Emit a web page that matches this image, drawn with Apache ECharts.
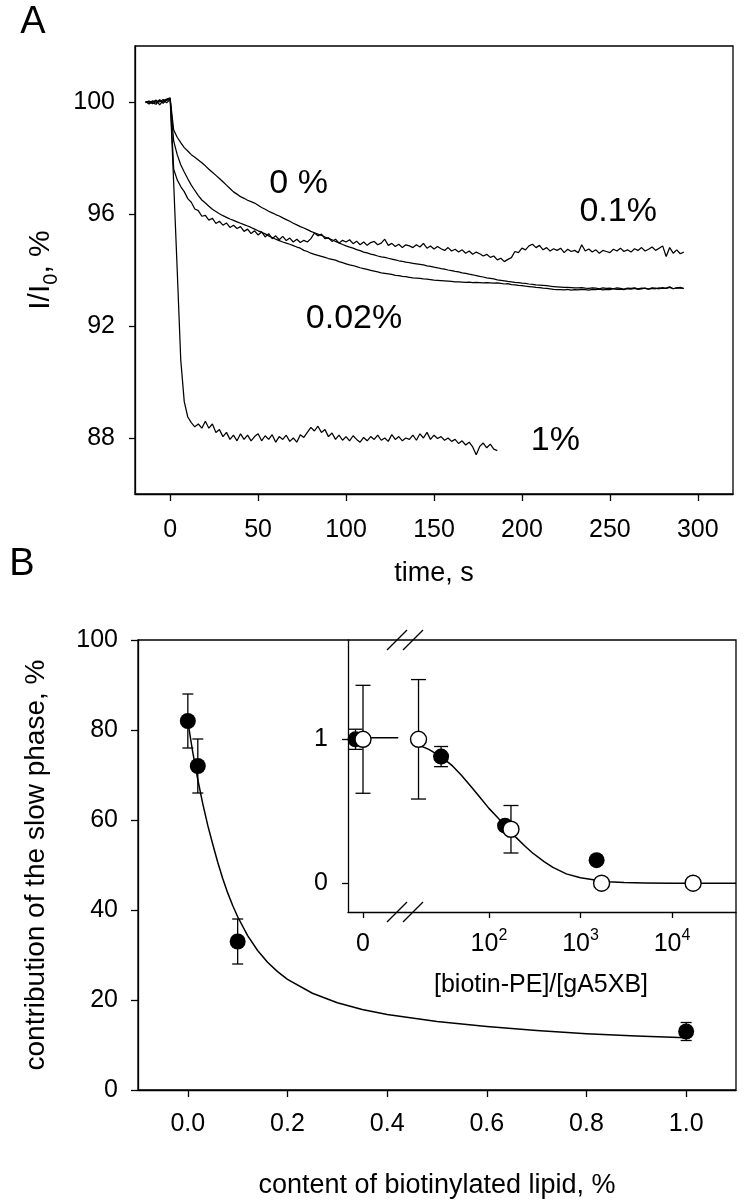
<!DOCTYPE html>
<html><head><meta charset="utf-8">
<script src="https://cdn.jsdelivr.net/npm/echarts@6/dist/echarts.min.js"></script>
<style>html,body{margin:0;padding:0;background:#fff}#c{width:746px;height:1200px}</style>
</head><body><div id="c"></div>
<script>
// ---------- Panel A: fluorescence traces ----------
const timeS = [-14,-12,-10,-8,-6,-4,-2,0,2,4,6,8,10,12,14,16,18,20,22,24,26,28,30,32,34,36,38,40,42,44,46,48,50,52,54,56,58,60,62,64,66,68,70,72,74,76,78,80,82,84,86,88,90,92,94,96,98,100,102,104,106,108,110,112,114,116,118,120,122,124,126,128,130,132,134,136,138,140,142,144,146,148,150,152,154,156,158,160,162,164,166,168,170,172,174,176,178,180,182,184,186,188,190,192,194,196,198,200,202,204,206,208,210,212,214,216,218,220,222,224,226,228,230,232,234,236,238,240,242,244,246,248,250,252,254,256,258,260,262,264,266,268,270,272,274,276,278,280,282,284,286,288,290,292];

const trace0pct = [100.0,99.96,100.04,99.98,100.06,99.95,100.08,100.12,
99.0,98.74,98.55,98.37,98.25,98.12,98.03,97.93,97.83,97.72,
97.6,97.49,97.38,97.27,97.15,97.03,96.91,96.79,96.71,96.62,
96.56,96.49,96.44,96.39,96.31,96.23,96.17,96.1,96.04,95.98,
95.93,95.86,95.8,95.74,95.67,95.61,95.55,95.5,95.44,95.38,
95.33,95.28,95.24,95.18,95.13,95.08,95.02,94.97,94.91,94.86,
94.82,94.78,94.73,94.69,94.64,94.61,94.57,94.54,94.5,94.47,
94.45,94.42,94.39,94.36,94.33,94.31,94.28,94.26,94.24,94.22,
94.2,94.18,94.15,94.13,94.1,94.08,94.05,94.03,94.0,93.98,
93.95,93.93,93.9,93.88,93.85,93.83,93.8,93.77,93.75,93.72,
93.7,93.68,93.65,93.63,93.61,93.59,93.58,93.56,93.55,93.53,
93.52,93.5,93.49,93.47,93.46,93.45,93.44,93.42,93.41,93.4,
93.39,93.38,93.38,93.37,93.36,93.36,93.37,93.35,93.34,93.36,
93.35,93.33,93.36,93.34,93.35,93.33,93.36,93.34,93.32,93.35,
93.34,93.36,93.33,93.35,93.34,93.32,93.36,93.35,93.33,93.37,
93.34,93.38,93.33,93.36,93.35,93.34];

const trace002pct = [99.98,100.02,99.94,100.05,100.0,100.09,99.97,100.1,
98.6,98.12,97.76,97.5,97.26,97.03,96.84,96.66,96.5,96.39,
96.28,96.17,96.09,96.01,95.94,95.88,95.82,95.77,95.72,95.67,
95.62,95.57,95.52,95.46,95.4,95.35,95.29,95.22,95.16,95.1,
95.05,95.0,94.96,94.92,94.87,94.82,94.78,94.7,94.66,94.6,
94.56,94.52,94.49,94.45,94.41,94.38,94.35,94.3,94.26,94.22,
94.18,94.16,94.12,94.08,94.05,94.02,93.99,93.96,93.93,93.9,
93.88,93.86,93.84,93.81,93.8,93.77,93.76,93.74,93.72,93.71,
93.7,93.68,93.67,93.66,93.64,93.63,93.62,93.61,93.6,93.59,
93.58,93.58,93.57,93.56,93.57,93.55,93.56,93.55,93.54,93.55,
93.54,93.53,93.54,93.52,93.5,93.51,93.48,93.47,93.45,93.44,
93.42,93.41,93.4,93.38,93.37,93.35,93.34,93.33,93.31,93.3,
93.3,93.29,93.31,93.28,93.3,93.29,93.31,93.3,93.28,93.31,
93.3,93.32,93.29,93.31,93.3,93.33,93.31,93.32,93.3,93.33,
93.32,93.34,93.31,93.33,93.35,93.32,93.34,93.33,93.36,93.34,
93.35,93.4,93.33,93.36,93.38,93.34];

const trace01pct = [100.02,99.93,100.0,100.07,99.9,100.05,100.1,100.15,
97.6,97.22,96.98,96.8,96.55,96.42,96.18,96.12,95.92,95.95,
95.78,95.85,95.66,95.74,95.6,95.68,95.52,95.6,95.48,95.55,
95.38,95.46,95.3,95.4,95.25,95.36,95.18,95.3,95.12,95.22,
95.08,95.2,95.05,95.14,95.0,95.1,94.98,95.06,95.0,95.12,
95.32,95.22,95.28,95.12,95.15,95.02,95.1,94.96,95.06,95.0,
95.08,94.94,95.03,94.9,95.0,94.88,94.98,95.02,94.9,94.96,
95.1,94.88,94.95,94.84,94.92,94.8,94.9,94.86,94.8,94.9,
94.82,94.95,94.78,94.86,94.75,94.84,94.76,94.7,94.8,94.68,
94.74,94.64,94.72,94.6,94.68,94.56,94.64,94.58,94.5,94.56,
94.45,94.5,94.36,94.42,94.3,94.38,94.44,94.66,94.62,94.78,
94.72,94.86,94.92,94.8,94.88,94.72,94.8,94.68,94.76,94.7,
94.78,94.62,94.74,94.66,94.7,94.62,94.9,94.68,94.75,94.64,
94.72,94.6,94.7,94.66,94.62,94.74,94.68,94.78,94.66,94.72,
94.64,94.76,94.7,94.8,94.68,94.74,94.82,94.7,94.78,94.86,
94.48,94.8,94.6,94.72,94.58,94.64];

const trace1pct = [100.0,100.03,99.97,99.92,100.08,100.0,100.06,100.1,
97.1,94.0,90.8,89.3,88.75,88.55,88.4,88.5,88.35,88.6,
88.35,88.5,88.2,88.3,88.05,88.2,87.95,88.1,87.9,88.15,
87.95,88.1,87.9,88.05,88.15,87.9,88.08,87.95,88.12,87.85,
88.05,87.95,88.1,87.88,88.0,87.85,88.12,88.02,88.2,88.38,
88.25,88.42,88.2,88.3,88.05,88.18,87.95,88.1,87.92,88.05,
87.9,88.08,87.95,87.85,88.02,87.9,88.05,87.95,88.1,87.92,
88.0,87.88,88.12,87.95,88.05,87.9,88.0,87.95,88.1,87.92,
88.15,88.0,88.2,87.95,88.1,87.98,88.05,87.92,88.0,87.88,
87.95,87.8,87.9,87.75,87.85,87.68,87.4,87.7,87.82,87.65,
87.78,87.6,87.55];

const annotTexts = ['0 %', '0.1%', '0.02%', '1%'];
const annotT = [73, 254.7, 104.5, 219];
const annotV = [97.09, 96.09, 92.25, 87.9];

const tTicksA = [0, 50, 100, 150, 200, 250, 300];
const vTicksA = [88, 92, 96, 100];

// ---------- Panel B: main plot ----------
const lipidX = [0, 0.02, 0.1, 1.0];
const slowY = [82, 72, 33, 13];
const slowErr = [6, 6, 5, 2];
const fitBX = [0, 0.005, 0.01, 0.015, 0.02, 0.03, 0.04, 0.05, 0.06, 0.07, 0.08, 0.09, 0.1, 0.12, 0.14, 0.16, 0.18, 0.2, 0.25, 0.3, 0.35, 0.4, 0.5, 0.6, 0.7, 0.8, 0.9, 1.0];
const fitBY = [82, 78.4, 75, 71.9, 69, 63.6, 58.8, 54.6, 50.6, 47.0, 43.8, 41.0, 38.5, 34.3, 31.0, 28.4, 26.3, 24.6, 21.5, 19.4, 17.9, 16.8, 15.2, 14.1, 13.2, 12.5, 12.0, 11.6];
const xTicksB = [0, 0.2, 0.4, 0.6, 0.8, 1.0];

// ---------- Panel B inset (broken axis: "0" segment + log segment) ----------
const zeroFilledX = [-0.5], zeroFilledY = [1.0], zeroFilledErr = [0.07];
const zeroOpenX = [0], zeroOpenY = [1.0], zeroOpenErr = [0.375];
const zeroLineX = [-0.5, 2.35], zeroLineY = [1.01, 1.01];
const logFilledX = [30, 150, 1500], logFilledY = [0.88, 0.40, 0.16], logFilledErr = [0.07, 0, 0];
const logOpenX = [17, 174, 1700, 17000], logOpenY = [1.0, 0.375, 0.0, 0.0], logOpenErr = [0.415, 0.165, 0, 0];
const fitInX = [17, 22, 30, 40, 50, 65, 80, 100, 125, 150, 175, 200, 250, 300, 400, 500, 700, 1000, 1500, 2000, 3000, 5000, 10000, 50000];
const fitInY = [0.96, 0.93, 0.88, 0.815, 0.75, 0.665, 0.595, 0.52, 0.455, 0.40, 0.355, 0.315, 0.255, 0.21, 0.15, 0.11, 0.065, 0.038, 0.02, 0.011, 0.005, 0.002, 0.0005, 0];
const inYTicks = [0, 1];
const inLogTicks = [100, 1000, 10000];

// ---------- build ----------
const FONT = "'Liberation Sans', Arial, sans-serif";
const zip = (xs, ys) => ys.map((y, i) => [xs[i], y]);
const zip3 = (xs, ys, es) => ys.map((y, i) => [xs[i], y, es[i]]);

function errRender(capW) {
  return function (params, api) {
    const x = api.value(0), y = api.value(1), e = api.value(2);
    if (!e) return null;
    const t = api.coord([x, y + e]), b = api.coord([x, y - e]);
    const st = { stroke: '#000', lineWidth: 1.3, fill: null };
    return { type: 'group', children: [
      { type: 'line', shape: { x1: t[0], y1: t[1], x2: b[0], y2: b[1] }, style: st },
      { type: 'line', shape: { x1: t[0] - capW / 2, y1: t[1], x2: t[0] + capW / 2, y2: t[1] }, style: st },
      { type: 'line', shape: { x1: b[0] - capW / 2, y1: b[1], x2: b[0] + capW / 2, y2: b[1] }, style: st }
    ]};
  };
}

const axLine = { show: true, onZero: false, lineStyle: { color: '#000', width: 1.3 } };
const tick = (vals, len) => ({ show: true, inside: false, length: len, customValues: vals, lineStyle: { color: '#000', width: 1.3 } });
const lab = (vals, margin, fmt) => ({ show: true, customValues: vals, margin: margin, color: '#000', fontSize: 25, fontFamily: FONT, formatter: fmt });

const traceLine = (name, vals) => ({
  type: 'line', name: name, xAxisIndex: 0, yAxisIndex: 0, symbol: 'none', silent: true,
  lineStyle: { color: '#000', width: 1.25 }, data: zip(timeS, vals), z: 3
});

const filledStyle = { color: '#000', opacity: 1 };
const openStyle = { color: '#fff', borderColor: '#000', borderWidth: 1.4, opacity: 1 };

const option = {
  animation: false,
  backgroundColor: '#fff',
  grid: [
    { left: 135, top: 46, width: 598, height: 448, show: true, borderColor: '#000', borderWidth: 1.3 },
    { left: 138, top: 640, width: 598, height: 450, show: true, borderColor: '#000', borderWidth: 1.3 },
    { left: 348, top: 640, width: 57, height: 272 },
    { left: 405, top: 640, width: 331, height: 272 }
  ],
  xAxis: [
    { gridIndex: 0, type: 'value', min: -20, max: 320, axisLine: axLine, axisTick: tick(tTicksA, 7),
      axisLabel: lab(tTicksA, 24), splitLine: { show: false },
      name: 'time, s', nameLocation: 'middle', nameGap: 66,
      nameTextStyle: { fontSize: 27, color: '#000', fontFamily: FONT } },
    { gridIndex: 1, type: 'value', min: -0.1, max: 1.1, axisLine: axLine, axisTick: tick(xTicksB, 7),
      axisLabel: lab(xTicksB, 22, v => Number(v).toFixed(1)), splitLine: { show: false },
      name: 'content of biotinylated lipid, %', nameLocation: 'middle', nameGap: 82,
      nameTextStyle: { fontSize: 27, color: '#000', fontFamily: FONT } },
    { gridIndex: 2, type: 'value', min: -1, max: 2.8, axisLine: axLine, axisTick: tick([0], 6),
      axisLabel: lab([0], 20, v => String(Math.round(v))), splitLine: { show: false } },
    { gridIndex: 3, type: 'log', logBase: 10, min: 12.1, max: 50000, axisLine: axLine, axisTick: tick(inLogTicks, 6),
      axisLabel: { show: true, customValues: inLogTicks, margin: 16, color: '#000', fontFamily: FONT,
        formatter: v => '{b|10}{s|' + Math.round(Math.log10(v)) + '}',
        rich: { b: { fontSize: 25, lineHeight: 32, fontFamily: FONT, color: '#000' },
                s: { fontSize: 16, lineHeight: 16, verticalAlign: 'top', fontFamily: FONT, color: '#000' } } },
      splitLine: { show: false }, minorTick: { show: false } }
  ],
  yAxis: [
    { gridIndex: 0, type: 'value', min: 86, max: 102, axisLine: axLine, axisTick: tick(vTicksA, 6),
      axisLabel: lab(vTicksA, 20), splitLine: { show: false },
      name: '{a|I/I}{s|0}{a|, %}', nameLocation: 'middle', nameGap: 74,
      nameTextStyle: { color: '#000', fontFamily: FONT,
        rich: { a: { fontSize: 30, lineHeight: 40, fontFamily: FONT, color: '#000' },
                s: { fontSize: 20, lineHeight: 20, verticalAlign: 'bottom', fontFamily: FONT, color: '#000' } } } },
    { gridIndex: 1, type: 'value', min: 0, max: 100, interval: 20, axisLine: axLine,
      axisTick: { show: true, inside: false, length: 7, lineStyle: { color: '#000', width: 1.3 } },
      axisLabel: { show: true, margin: 20, color: '#000', fontSize: 25, fontFamily: FONT }, splitLine: { show: false },
      name: 'contribution of the slow phase, %', nameLocation: 'middle', nameGap: 88,
      nameTextStyle: { fontSize: 28, color: '#000', fontFamily: FONT } },
    { gridIndex: 2, type: 'value', min: -0.2, max: 1.69, axisLine: axLine, axisTick: tick(inYTicks, 6),
      axisLabel: lab(inYTicks, 20, v => String(Math.round(v))), splitLine: { show: false } },
    { gridIndex: 3, type: 'value', min: -0.2, max: 1.69, show: false }
  ],
  graphic: [
    { type: 'text', x: 33, y: 23, style: { text: 'A', fontSize: 38, fontFamily: FONT, fill: '#000', textAlign: 'center', textVerticalAlign: 'middle' } },
    { type: 'text', x: 22, y: 565, style: { text: 'B', fontSize: 38, fontFamily: FONT, fill: '#000', textAlign: 'center', textVerticalAlign: 'middle' } },
    { type: 'text', x: 541, y: 985, style: { text: '[biotin-PE]/[gA5XB]', fontSize: 25, fontFamily: FONT, fill: '#000', textAlign: 'center', textVerticalAlign: 'middle' } },
    { type: 'polyline', shape: { points: [[387, 650], [407, 630]] }, style: { stroke: '#000', lineWidth: 1.3 }, z: 100 },
    { type: 'polyline', shape: { points: [[403, 650], [423, 630]] }, style: { stroke: '#000', lineWidth: 1.3 }, z: 100 },
    { type: 'polyline', shape: { points: [[387, 922], [407, 902]] }, style: { stroke: '#000', lineWidth: 1.3 }, z: 100 },
    { type: 'polyline', shape: { points: [[403, 922], [423, 902]] }, style: { stroke: '#000', lineWidth: 1.3 }, z: 100 }
  ],
  series: [
    traceLine('0 %', trace0pct),
    traceLine('0.02%', trace002pct),
    traceLine('0.1%', trace01pct),
    { type: 'line', name: '1%', xAxisIndex: 0, yAxisIndex: 0, symbol: 'none', silent: true,
      lineStyle: { color: '#000', width: 1.25 }, data: zip(timeS.slice(0, trace1pct.length), trace1pct), z: 3 },
    { type: 'scatter', xAxisIndex: 0, yAxisIndex: 0, symbolSize: 1, silent: true,
      itemStyle: { color: 'rgba(0,0,0,0)', opacity: 1 },
      label: { show: true, position: 'inside', formatter: p => p.name, fontSize: 34, color: '#000', fontFamily: FONT },
      data: annotTexts.map((t, i) => ({ name: t, value: [annotT[i], annotV[i]] })), z: 6 },

    // main B
    { type: 'custom', xAxisIndex: 1, yAxisIndex: 1, renderItem: errRender(11), data: zip3(lipidX, slowY, slowErr), z: 2, silent: true },
    { type: 'line', xAxisIndex: 1, yAxisIndex: 1, data: zip(fitBX, fitBY), smooth: false, symbol: 'none',
      lineStyle: { color: '#000', width: 1.5, join: 'round' }, z: 3, silent: true },
    { type: 'scatter', xAxisIndex: 1, yAxisIndex: 1, data: zip(lipidX, slowY), symbol: 'circle', symbolSize: 16,
      itemStyle: filledStyle, z: 4, silent: true },

    // inset zero segment
    { type: 'line', xAxisIndex: 2, yAxisIndex: 2, data: zip(zeroLineX, zeroLineY), symbol: 'none',
      lineStyle: { color: '#000', width: 1.5 }, z: 3, silent: true },
    { type: 'custom', xAxisIndex: 2, yAxisIndex: 2, renderItem: errRender(14), data: zip3(zeroFilledX, zeroFilledY, zeroFilledErr), z: 2, silent: true },
    { type: 'custom', xAxisIndex: 2, yAxisIndex: 2, renderItem: errRender(15), data: zip3(zeroOpenX, zeroOpenY, zeroOpenErr), z: 2, silent: true },
    { type: 'scatter', xAxisIndex: 2, yAxisIndex: 2, data: zip(zeroFilledX, zeroFilledY), symbol: 'circle', symbolSize: 16,
      itemStyle: filledStyle, z: 4, silent: true },
    { type: 'scatter', xAxisIndex: 2, yAxisIndex: 2, data: zip(zeroOpenX, zeroOpenY), symbol: 'circle', symbolSize: 16,
      itemStyle: openStyle, z: 5, silent: true },

    // inset log segment
    { type: 'custom', xAxisIndex: 3, yAxisIndex: 3, renderItem: errRender(14), data: zip3(logFilledX, logFilledY, logFilledErr), z: 2, silent: true },
    { type: 'custom', xAxisIndex: 3, yAxisIndex: 3, renderItem: errRender(15), data: zip3(logOpenX, logOpenY, logOpenErr), z: 2, silent: true },
    { type: 'line', xAxisIndex: 3, yAxisIndex: 3, data: zip(fitInX, fitInY), smooth: false, symbol: 'none',
      lineStyle: { color: '#000', width: 1.5, join: 'round' }, z: 3, silent: true },
    { type: 'scatter', xAxisIndex: 3, yAxisIndex: 3, data: zip(logFilledX, logFilledY), symbol: 'circle', symbolSize: 16,
      itemStyle: filledStyle, z: 4, silent: true },
    { type: 'scatter', xAxisIndex: 3, yAxisIndex: 3, data: zip(logOpenX, logOpenY), symbol: 'circle', symbolSize: 16,
      itemStyle: openStyle, z: 5, silent: true }
  ]
};

const chart = echarts.init(document.getElementById('c'), null, { renderer: 'canvas' });
chart.setOption(option);
</script>
</body></html>
